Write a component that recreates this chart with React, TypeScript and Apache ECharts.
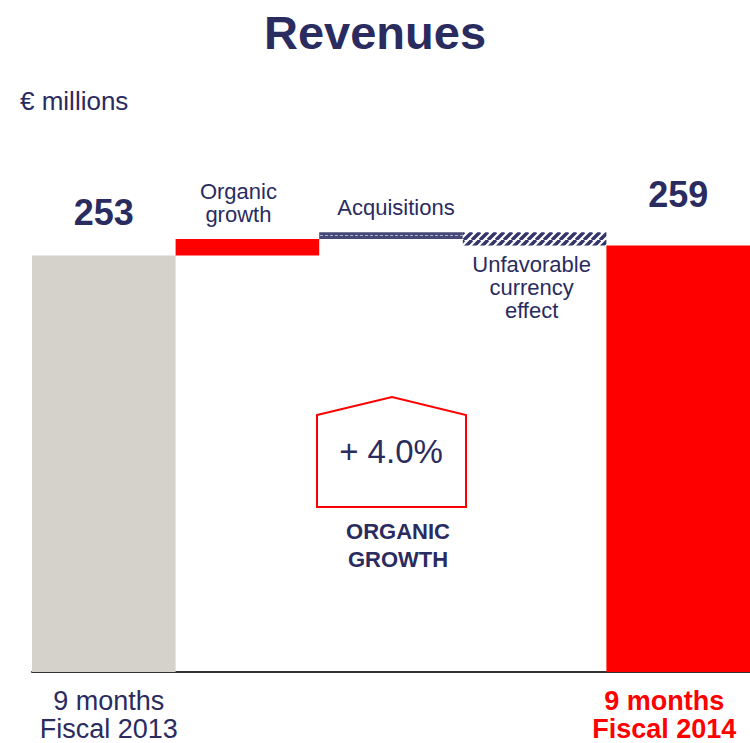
import React, { useEffect, useRef } from "react";
import * as echarts from "echarts";

const categories = [
  "9 months\nFiscal 2013",
  "Organic\ngrowth",
  "Acquisitions",
  "Unfavorable\ncurrency\neffect",
  "9 months\nFiscal 2014",
];
const startValue = 253;
const deltas = [10, 4, -8];
const endValue = 259;
const organicGrowthText = "+ 4.0%";
const organicGrowthCaption = "ORGANIC\nGROWTH";
const unitText = "€ millions";
const titleText = "Revenues";

const FONT = "'Liberation Sans', Arial, sans-serif";
const NAVY = "#2a2b5f";
const RED = "#ff0000";
const GRAY = "#d5d2cc";

function acquisitionsPattern(): HTMLCanvasElement {
  const c = document.createElement("canvas");
  c.width = 5;
  c.height = 7;
  const ctx = c.getContext("2d")!;
  ctx.fillStyle = "#464877";
  ctx.fillRect(0, 0, 5, 7);
  ctx.fillStyle = "#aeafc6";
  ctx.fillRect(0, 4, 3, 1);
  return c;
}

function currencyPattern(): HTMLCanvasElement {
  const c = document.createElement("canvas");
  c.width = 8;
  c.height = 8;
  const ctx = c.getContext("2d")!;
  ctx.fillStyle = "#ffffff";
  ctx.fillRect(0, 0, 8, 8);
  ctx.strokeStyle = "#34356a";
  ctx.lineWidth = 3.5;
  ctx.beginPath();
  for (const off of [-8, 0, 8]) {
    ctx.moveTo(off, 8);
    ctx.lineTo(off + 8, 0);
  }
  ctx.stroke();
  return c;
}

export default function App() {
  const ref = useRef<HTMLDivElement>(null);

  useEffect(() => {
    if (!ref.current) return;
    const chart = echarts.init(ref.current, undefined, { renderer: "svg" });

    // waterfall computation
    const base: number[] = [0];
    const heights: number[] = [startValue];
    let running = startValue;
    for (const d of deltas) {
      if (d >= 0) {
        base.push(running);
        heights.push(d);
        running += d;
      } else {
        running += d;
        base.push(running);
        heights.push(-d);
      }
    }
    base.push(0);
    heights.push(endValue);

    const deltaFills: any[] = [
      RED,
      { image: acquisitionsPattern(), repeat: "repeat" },
      { image: currencyPattern(), repeat: "repeat" },
    ];
    const deltaLabelCfg: any[] = [
      { position: "top", distance: 13, offset: [-9, 0] },
      { position: "top", distance: 13, offset: [5, 0] },
      { position: "bottom", distance: 7, offset: [-3, 0] },
    ];

    const visible: any[] = heights.map((h, i) => {
      const last = heights.length - 1;
      if (i === 0 || i === last) {
        return {
          value: h,
          itemStyle: { color: i === 0 ? GRAY : RED },
          label: {
            show: true,
            position: "top",
            distance: i === 0 ? 25 : 33,
            formatter: String(i === 0 ? startValue : endValue),
            fontFamily: FONT,
            fontSize: 36,
            fontWeight: "bold",
            color: NAVY,
            lineHeight: 36,
          },
        };
      }
      const k = i - 1;
      return {
        value: h,
        itemStyle: { color: deltaFills[k] },
        label: {
          show: true,
          ...deltaLabelCfg[k],
          formatter: categories[i],
          fontFamily: FONT,
          fontSize: 22,
          color: NAVY,
          lineHeight: 23,
          align: "center",
        },
      };
    });

    const option: any = {
      animation: false,
      backgroundColor: "#ffffff",
      title: {
        text: titleText,
        left: "center",
        top: 4,
        textStyle: {
          fontFamily: FONT,
          fontSize: 47,
          fontWeight: "bold",
          color: NAVY,
          lineHeight: 47,
        },
      },
      grid: {
        left: 32,
        right: 0,
        top: 178,
        bottom: 71,
        containLabel: false,
        outerBoundsMode: "none",
      },
      xAxis: {
        type: "category",
        data: categories,
        axisTick: { show: false },
        axisLine: { lineStyle: { color: "#333333", width: 2 } },
        axisLabel: {
          interval: 0,
          margin: 15,
          formatter: (v: string, i: number) => {
            const lines = v.split("\n");
            if (i === 0) return lines.map((l) => `{a|${l}}`).join("\n");
            if (i === categories.length - 1)
              return lines.map((l) => `{b|${l}}`).join("\n");
            return "";
          },
          rich: {
            a: {
              fontFamily: FONT,
              fontSize: 27,
              color: NAVY,
              lineHeight: 28,
              padding: [0, 0, 0, 10],
            },
            b: {
              fontFamily: FONT,
              fontSize: 27,
              fontWeight: "bold",
              color: RED,
              lineHeight: 28,
              padding: [0, 28, 0, 0],
            },
          },
        },
      },
      yAxis: { type: "value", min: 0, max: 300, show: false },
      series: [
        {
          type: "bar",
          stack: "w",
          data: base,
          barCategoryGap: "0%",
          itemStyle: { color: "transparent" },
          silent: true,
        },
        {
          type: "bar",
          stack: "w",
          data: visible,
          barCategoryGap: "0%",
        },
      ],
      graphic: [
        {
          type: "text",
          left: 20,
          top: 88,
          style: {
            text: unitText,
            fontFamily: FONT,
            fontSize: 26,
            fill: NAVY,
          },
        },
        {
          type: "polygon",
          shape: {
            points: [
              [317, 415],
              [392, 397],
              [466, 415],
              [466, 507],
              [317, 507],
            ],
          },
          style: { fill: "none", stroke: RED, lineWidth: 2 },
        },
        {
          type: "text",
          x: 391,
          y: 451,
          style: {
            text: organicGrowthText,
            fontFamily: FONT,
            fontSize: 33,
            fill: NAVY,
            align: "center",
            verticalAlign: "middle",
          },
        },
        {
          type: "text",
          x: 398,
          y: 545,
          style: {
            text: organicGrowthCaption,
            fontFamily: FONT,
            fontSize: 22,
            fontWeight: "bold",
            fill: NAVY,
            align: "center",
            verticalAlign: "middle",
            lineHeight: 28,
          },
        },
      ],
    };

    chart.setOption(option);
    return () => chart.dispose();
  }, []);

  return (
    <div
      ref={ref}
      style={{ position: "absolute", left: 0, top: 0, width: 750, height: 743 }}
    />
  );
}
